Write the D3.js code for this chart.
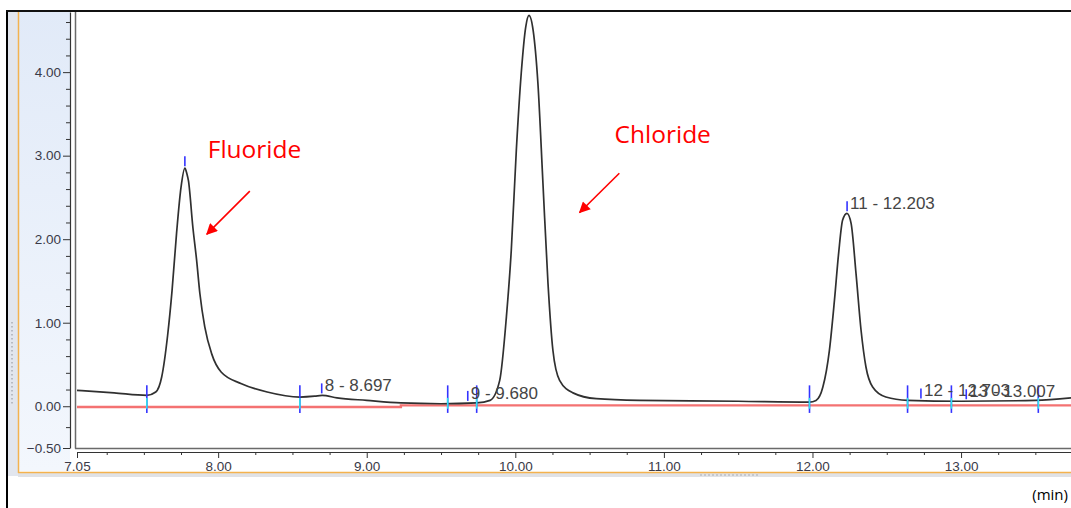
<!DOCTYPE html>
<html>
<head>
<meta charset="utf-8">
<script src="https://cdn.jsdelivr.net/npm/d3@7"></script>
<style>
  body { margin: 0; background: #fff; }
  svg { display: block; }
</style>
</head>
<body>
<div id="chart"></div>
<script>
// chromatogram trace (time in min, signal)
const traceTime = [7.05, 7.30, 7.52, 7.58, 7.62, 7.66, 7.69, 7.72, 7.75, 7.776, 7.79, 7.80, 7.83, 7.855, 7.877, 7.91, 7.956, 8.02, 8.157, 8.33, 8.55, 8.65, 8.70, 8.80, 9.00, 9.23, 9.50, 9.74, 9.83, 9.895, 9.94, 9.973, 10.007, 10.04, 10.07, 10.092, 10.12, 10.152, 10.186, 10.22, 10.253, 10.298, 10.388, 10.545, 10.836, 11.5, 11.98, 12.024, 12.07, 12.114, 12.148, 12.176, 12.203, 12.232, 12.26, 12.293, 12.327, 12.36, 12.405, 12.494, 12.64, 13.0, 13.5, 13.74];
const traceValue = [0.19, 0.16, 0.13, 0.17, 0.35, 0.85, 1.39, 2.07, 2.62, 2.85, 2.78, 2.70, 2.14, 1.75, 1.35, 0.95, 0.63, 0.41, 0.27, 0.17, 0.11, 0.12, 0.13, 0.10, 0.07, 0.04, 0.03, 0.04, 0.07, 0.31, 1.07, 1.87, 3.07, 3.99, 4.54, 4.68, 4.50, 3.87, 2.67, 1.47, 0.67, 0.31, 0.16, 0.09, 0.07, 0.06, 0.05, 0.07, 0.23, 0.67, 1.27, 1.83, 2.23, 2.31, 2.19, 1.59, 0.91, 0.47, 0.23, 0.11, 0.07, 0.06, 0.07, 0.10];

// integration baseline (red)
const baseTime = [7.05, 9.23, 9.23, 13.74];
const baseValue = [-0.01, -0.01, 0.01, 0.01];

// peak start / end markers
const boundaryTimes = [7.52, 8.55, 9.545, 9.74, 11.98, 12.64, 12.935, 13.52];

// peak apex markers and their labels
const peakTimes = [7.776, 8.697, 9.68, 12.233, 12.73, 13.035];
const peakValues = [2.85, 0.13, 0.04, 2.31, 0.07, 0.06];
const peakLabels = ["", "8 - 8.697", "9 - 9.680", "11 - 12.203", "12 - 12.703", "13 - 13.007"];

// axis ticks
const yTicks = [-0.5, 0, 1, 2, 3, 4];
const xTicks = [7.05, 8, 9, 10, 11, 12, 13];

// red annotations: text position and arrow tail/tip, in data units
const noteNames = ["Fluoride", "Chloride"];
const noteText = [[7.93, 2.97], [10.668, 3.15]];
const noteArrow = [[8.213, 2.575, 7.924, 2.06], [10.70, 2.79, 10.433, 2.32]];

const width = 1071, height = 508;

const svg = d3.select("#chart").append("svg").attr("width", width).attr("height", height);

const x = d3.scaleLinear().domain([7.05, 13.74]).range([77, 1071]);
const y = d3.scaleLinear().domain([-0.5, 4.72]).range([448, 12]);

const defs = svg.append("defs");
const grad = defs.append("linearGradient").attr("id", "panel").attr("x1", 0).attr("y1", 0).attr("x2", 0).attr("y2", 1);
grad.append("stop").attr("offset", "0%").attr("stop-color", "#e1eaf8");
grad.append("stop").attr("offset", "100%").attr("stop-color", "#f3f7fd");
defs.append("clipPath").attr("id", "plotClip")
  .append("rect").attr("x", 76).attr("y", 12).attr("width", width - 76).attr("height", 436);
defs.append("marker").attr("id", "arrowHead")
  .attr("viewBox", "0 0 10 10").attr("refX", 9).attr("refY", 5)
  .attr("markerWidth", 8.5).attr("markerHeight", 7).attr("markerUnits", "strokeWidth")
  .attr("orient", "auto")
  .append("path").attr("d", "M0,0 L10,5 L0,10 Z").attr("fill", "#ff0000");

// window chrome: grey strip, blue axis panel, orange border
svg.append("rect").attr("x", 8).attr("y", 11).attr("width", 10).attr("height", 465).attr("fill", "#e2e6ee");
svg.append("rect").attr("x", 19).attr("y", 11).attr("width", 51).attr("height", 460).attr("fill", "url(#panel)");
svg.append("rect").attr("x", 18).attr("y", 473).attr("width", width - 18).attr("height", 4).attr("fill", "#e0e2e6");
svg.append("line").attr("x1", 18.5).attr("x2", 18.5).attr("y1", 11).attr("y2", 473).attr("stroke", "#f4b24e").attr("stroke-width", 1.5);
svg.append("line").attr("x1", 18).attr("x2", width).attr("y1", 472.5).attr("y2", 472.5).attr("stroke", "#f4b24e").attr("stroke-width", 1.5);

// little scroll grips
svg.append("line").attr("x1", 12).attr("x2", 12).attr("y1", 322).attr("y2", 405)
  .attr("stroke", "#a9adb5").attr("stroke-width", 1.5).attr("stroke-dasharray", "1.5,2.5");
svg.append("line").attr("x1", 700).attr("x2", 760).attr("y1", 475).attr("y2", 475)
  .attr("stroke", "#a9adb5").attr("stroke-width", 1).attr("stroke-dasharray", "2,2");

// outer black frame
svg.append("line").attr("x1", 7).attr("x2", 7).attr("y1", 10).attr("y2", height).attr("stroke", "#000").attr("stroke-width", 2);
svg.append("line").attr("x1", 6).attr("x2", width).attr("y1", 11).attr("y2", 11).attr("stroke", "#111").attr("stroke-width", 2);

// plot frame
svg.append("line").attr("x1", 75.5).attr("x2", 75.5).attr("y1", 12).attr("y2", 448.5).attr("stroke", "#6a6a6a").attr("stroke-width", 1.5);
svg.append("line").attr("x1", 75).attr("x2", width).attr("y1", 448.5).attr("y2", 448.5).attr("stroke", "#6a6a6a").attr("stroke-width", 1.5);

// y axis
const yAxis = svg.append("g").attr("transform", "translate(70,0)")
  .call(d3.axisLeft(y).tickValues(yTicks).tickFormat(d3.format(".2f")).tickSize(7).tickSizeOuter(0).tickPadding(2));
const yMinor = [-0.25].concat(d3.range(0.2, 4.7, 0.2).filter(v => Math.abs(v - Math.round(v)) > 0.01));
svg.append("g").attr("transform", "translate(70,0)")
  .call(d3.axisLeft(y).tickValues(yMinor).tickFormat("").tickSize(4).tickSizeOuter(0))
  .call(g => g.select(".domain").remove());

// x axis
const xAxis = svg.append("g").attr("transform", "translate(0,452)")
  .call(d3.axisBottom(x).tickValues(xTicks).tickFormat(d3.format(".2f")).tickSize(6).tickSizeOuter(0).tickPadding(3));
const xMinor = d3.range(7.25, 13.74, 0.25).filter(v => Math.abs(v - Math.round(v)) > 0.01);
svg.append("g").attr("transform", "translate(0,452)")
  .call(d3.axisBottom(x).tickValues(xMinor).tickFormat("").tickSize(3).tickSizeOuter(0))
  .call(g => g.select(".domain").remove());

[yAxis, xAxis].forEach(g => {
  g.select(".domain").attr("stroke", "#333").attr("stroke-width", 1.2);
  g.selectAll("text").attr("font-family", "'Liberation Sans', Arial, sans-serif")
    .attr("font-size", 13.5).attr("fill", "#3a3a48");
});
svg.selectAll(".tick line").attr("stroke", "#333");

const plot = svg.append("g").attr("clip-path", "url(#plotClip)");

// red baseline
const baseLine = d3.line().x((d, i) => x(baseTime[i])).y((d, i) => y(baseValue[i]));
plot.append("path").datum(baseTime).attr("d", baseLine)
  .attr("fill", "none").attr("stroke", "#f47272").attr("stroke-width", 2.4);

// trace
const traceLine = d3.line().curve(d3.curveMonotoneX)
  .x((d, i) => x(traceTime[i])).y((d, i) => y(traceValue[i]));
plot.append("path").datum(traceTime).attr("d", traceLine)
  .attr("fill", "none").attr("stroke", "#303030").attr("stroke-width", 1.7);

// peak boundary markers
const bnd = plot.selectAll(".bnd").data(boundaryTimes).join("g").attr("class", "bnd");
bnd.append("line").attr("x1", d => x(d)).attr("x2", d => x(d))
  .attr("y1", y(0.25)).attr("y2", y(-0.08)).attr("stroke", "#3434ff").attr("stroke-width", 1.6);
bnd.append("line").attr("x1", d => x(d)).attr("x2", d => x(d))
  .attr("y1", y(0.1)).attr("y2", y(-0.03)).attr("stroke", "#30e0ee").attr("stroke-width", 1.6);

// apex markers + labels
const pk = plot.selectAll(".pk").data(peakTimes).join("g").attr("class", "pk");
pk.append("line").attr("x1", d => x(d)).attr("x2", d => x(d))
  .attr("y1", (d, i) => y(peakValues[i]) - 12).attr("y2", (d, i) => y(peakValues[i]) - 2)
  .attr("stroke", "#3434ff").attr("stroke-width", 1.6);
pk.append("text").attr("x", d => x(d) + 3).attr("y", (d, i) => y(peakValues[i]) - 4)
  .attr("font-family", "'Liberation Sans', Arial, sans-serif").attr("font-size", 17)
  .attr("fill", "#454545").text((d, i) => peakLabels[i]);

// red annotations
noteNames.forEach((name, i) => {
  svg.append("text").attr("x", x(noteText[i][0])).attr("y", y(noteText[i][1]))
    .attr("font-family", "'Open Sans', sans-serif").attr("font-size", 24.5)
    .attr("fill", "#ff0000").text(name);
  svg.append("line")
    .attr("x1", x(noteArrow[i][0])).attr("y1", y(noteArrow[i][1]))
    .attr("x2", x(noteArrow[i][2])).attr("y2", y(noteArrow[i][3]))
    .attr("stroke", "#ff0000").attr("stroke-width", 1.6).attr("marker-end", "url(#arrowHead)");
});

// unit label
svg.append("text").attr("x", 1068).attr("y", 500).attr("text-anchor", "end")
  .attr("font-family", "'Open Sans', sans-serif").attr("font-size", 15).attr("fill", "#000").text("(min)");
</script>
</body>
</html>
